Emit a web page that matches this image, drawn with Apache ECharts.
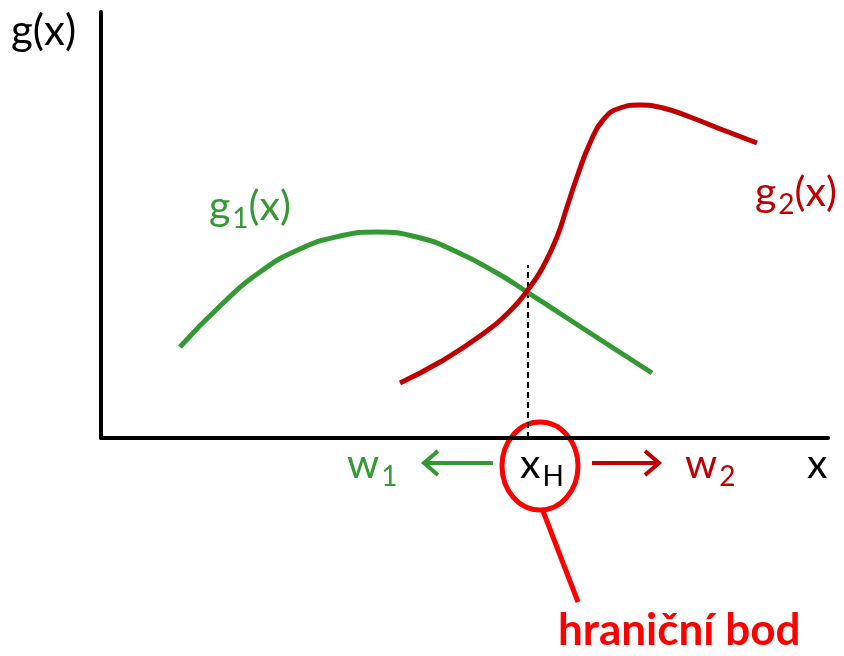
<!DOCTYPE html>
<html lang="cs">
<head>
<meta charset="UTF-8">
<title>hraniční bod</title>
<script src="https://cdn.jsdelivr.net/npm/echarts@6/dist/echarts.min.js"></script>
<style>
  html, body { margin: 0; padding: 0; background: #fff; }
  #main { width: 844px; height: 656px; }
</style>
</head>
<body>
<div id="main"></div>
<script type="text/javascript">
// body krivek (x, g) - jednotky os
var g1X = [79, 119, 159, 199, 239, 276, 316, 356, 396, 426, 466, 506, 551];
var g1Y = [91, 132, 166, 189, 202, 206, 201, 186, 165, 146, 120, 94, 65];
var g2X = [299, 339, 379, 409, 429, 442, 456, 466, 476, 489, 502, 519, 539, 562, 589, 622, 656];
var g2Y = [55, 76, 102, 127, 151, 171, 201, 231, 261, 295, 318, 330, 333, 330, 321, 308, 295];
var xH = 427;
var xHTop = 173;

function pairs(xs, ys) {
  var out = [];
  for (var i = 0; i < xs.length; i++) out.push([xs[i], ys[i]]);
  return out;
}

var green = '#339933';
var darkRed = '#c00000';
var red = '#ff0000';
var font = 'Lato, "Open Sans", sans-serif';

function sub(main, s, tail, color, x, y) {
  var t = '{a|' + main + '}{s|' + s + '}' + (tail ? '{a|' + tail + '}' : '');
  return { type: 'text', left: x, top: y,
    style: { text: t, fill: color,
      rich: { a: { fontSize: 41, fontFamily: font, color: color },
              s: { fontSize: 28, fontFamily: font, color: color, padding: [24, 0, 0, 2] } } } };
}

var myChart = echarts.init(document.getElementById('main'));

myChart.setOption({
  animation: false,
  grid: { left: 101, top: 12, width: 727, height: 426 },
  xAxis: {
    type: 'value', min: 0, max: 727,
    axisLine: { lineStyle: { color: '#000', width: 4 } },
    axisTick: { show: false }, axisLabel: { show: false }, splitLine: { show: false }
  },
  yAxis: {
    type: 'value', min: 0, max: 426,
    axisLine: { show: true, lineStyle: { color: '#000', width: 4 } },
    axisTick: { show: false }, axisLabel: { show: false }, splitLine: { show: false }
  },
  series: [
    {
      type: 'line', smooth: 0.5, symbol: 'none',
      data: pairs(g1X, g1Y),
      lineStyle: { color: green, width: 5 }
    },
    {
      type: 'line', smooth: 0.5, symbol: 'none',
      data: pairs(g2X, g2Y),
      lineStyle: { color: darkRed, width: 5 }
    },
    {
      type: 'line', symbol: 'none', z: 1,
      data: [[xH, 0], [xH, xHTop]],
      lineStyle: { color: '#000', width: 2, type: [6, 4] }
    }
  ],
  graphic: [
    { type: 'text', left: 11, top: 10,
      style: { text: 'g(x)', font: '42px ' + font, fill: '#000' } },
    sub('g', '1', '(x)', green, 209, 186),
    sub('g', '2', '(x)', darkRed, 755, 172),
    { type: 'text', left: 807, top: 444,
      style: { text: 'x', font: '41px ' + font, fill: '#000' } },
    sub('w', '1', '', green, 347, 444),
    sub('w', '2', '', darkRed, 685, 444),
    sub('x', 'H', '', '#000', 520, 444),
    // sipka w1
    { type: 'polyline', shape: { points: [[493, 463], [425, 463]] },
      style: { stroke: green, lineWidth: 4, fill: null } },
    { type: 'polyline', shape: { points: [[438, 451], [424, 463], [438, 475]] },
      style: { stroke: green, lineWidth: 4, fill: null } },
    // sipka w2
    { type: 'polyline', shape: { points: [[592, 463], [658, 463]] },
      style: { stroke: darkRed, lineWidth: 4, fill: null } },
    { type: 'polyline', shape: { points: [[645, 451], [659, 463], [645, 475]] },
      style: { stroke: darkRed, lineWidth: 4, fill: null } },
    // kruh + odkaz
    { type: 'ellipse', shape: { cx: 540, cy: 466, rx: 38, ry: 44 },
      style: { stroke: red, lineWidth: 5, fill: null } },
    { type: 'line', shape: { x1: 543, y1: 511, x2: 578, y2: 602 },
      style: { stroke: red, lineWidth: 5 } },
    { type: 'text', left: 558, top: 609,
      style: { text: 'hraniční bod', font: 'bold 44px ' + font, fill: red } }
  ]
});
</script>
</body>
</html>
